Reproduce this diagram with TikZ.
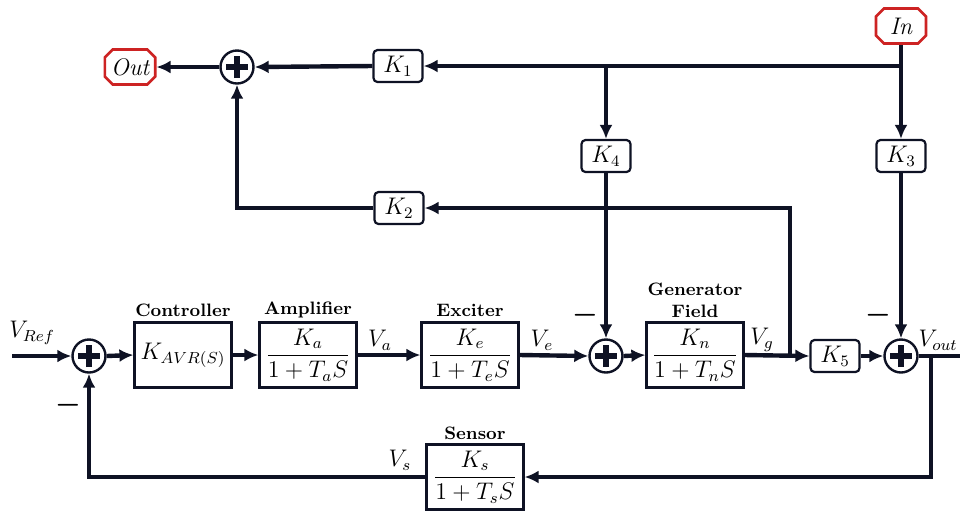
\documentclass[tikz,border=0pt]{standalone}
\usepackage{amsmath,bm}
\usetikzlibrary{shapes.misc, arrows.meta, calc}
\definecolor{ink}{RGB}{14,18,36}
\definecolor{termred}{RGB}{205,35,35}
\tikzset{
  block/.style={
    rectangle, draw=ink, line width=1.1pt,
    minimum width=48.5pt, minimum height=32.5pt,
    inner sep=1pt, font=\large
  },
  gain/.style={
    rectangle, rounded corners=2pt, draw=ink, line width=1.1pt,
    minimum width=24.5pt, minimum height=16pt,
    inner sep=1pt, font=\large
  },
  term/.style={
    chamfered rectangle, chamfered rectangle xsep=2pt, chamfered rectangle ysep=2pt,
    draw=termred, line width=1.3pt,
    minimum width=25pt, minimum height=17.5pt,
    inner sep=1pt, font=\large\itshape
  },
  sumnode/.style={
    circle, draw=ink, line width=1.2pt, minimum size=16.5pt, inner sep=0pt,
    path picture={
      \draw[ink, line width=3pt]
        (path picture bounding box.center) ++(-5.6pt,0) -- ++(11.2pt,0)
        (path picture bounding box.center) ++(0,-5.6pt) -- ++(0,11.2pt);
    }
  },
  arr/.style  = {-{Latex[length=7pt,width=6.5pt]}, draw=ink, line width=2.2pt},
  bus/.style  = {draw=ink, line width=2.2pt},
  title/.style = {font=\small\bfseries, align=center, inner sep=0pt},
  sig/.style  = {font=\large, inner sep=0pt},
  neg/.style  = {font=\Large, inner sep=0pt},
}

\begin{document}
\begin{tikzpicture}[x=0.5pt, y=-0.5pt]

\useasboundingbox (0,0) rectangle (960,511);

%% ── Upper gain network ──────────────────────────────────────────────────────
\node[term]    (Out)  at (130, 67) {Out};
\node[sumnode] (sumT) at (237, 67) {};
\node[gain]    (K1)   at (398, 66) {$K_1$};
\node[gain]    (K2)   at (399,208) {$K_2$};
\node[term]    (In)   at (901, 26) {In};
\node[gain]    (K4)   at (606,156) {$K_4$};
\node[gain]    (K3)   at (901,156) {$K_3$};

%% ── Main loop (left to right) ───────────────────────────────────────────────
\coordinate (ref) at (12,356);
\node[sumnode] (sumL) at ( 89,356) {};
\node[block]   (ctrl) at (183,355) {$K_{AVR(S)}$};
\node[block]   (amp)  at (308,355) {$\dfrac{K_a}{1+T_aS}$};
\node[block]   (exc)  at (470,355) {$\dfrac{K_e}{1+T_eS}$};
\node[sumnode] (sumM) at (606,356) {};
\node[block]   (gen)  at (695,355) {$\dfrac{K_n}{1+T_nS}$};
\node[gain]    (K5)   at (835,356) {$K_5$};
\node[sumnode] (sumR) at (901,356) {};
\coordinate (vout) at (960,356);
\node[block]   (sens) at (475,477) {$\dfrac{K_s}{1+T_sS}$};

%% ── Titles, signals and signs ───────────────────────────────────────────────
\node[title] at (183,310) {Controller};
\node[title] at (308,310) {Amplifier};
\node[title] at (470,310) {Exciter};
\node[title] at (695,300) {Generator\\Field};
\node[title] at (475,433) {Sensor};

\node[sig] at ( 32,333) {$V_{Ref}$};
\node[sig] at (380,340) {$V_a$};
\node[sig] at (542,340) {$V_e$};
\node[sig] at (762,340) {$V_g$};
\node[sig, anchor=east] at (958,340) {$V_{out}$};
\node[sig] at (400,460) {$V_s$};

\node[neg] at ( 68,405) {$\boldsymbol{-}$};
\node[neg] at (585,315) {$\boldsymbol{-}$};
\node[neg] at (878,315) {$\boldsymbol{-}$};

%% ── Junctions ───────────────────────────────────────────────────────────────
\coordinate (jIn)  at (In |- K1);
\coordinate (jK4)  at (K4 |- K1);
\coordinate (jVg)  at (790,356);
\coordinate (jOut) at (931,356);

%% ── Forward path ────────────────────────────────────────────────────────────
\draw[arr] (ref) -- (sumL.west);
\draw[arr] (sumL.east) -- (ctrl.west);
\draw[arr] (ctrl.east) -- (amp.west);
\draw[arr] (amp.east) -- (exc.west);
\draw[arr] (exc.east) -- (sumM.west);
\draw[arr] (sumM.east) -- (gen.west);
\draw[arr] (gen.east) -- (K5.west);
\draw[arr] (K5.east) -- (sumR.west);
\draw[bus] (sumR.east) -- (vout);

%% ── Sensor feedback ─────────────────────────────────────────────────────────
\draw[arr] (jOut) |- (sens.east);
\draw[arr] (sens.west) -| (sumL.south);

%% ── In → gains ──────────────────────────────────────────────────────────────
\draw[arr] (In.south) -- (K3.north);
\draw[arr] (jIn) -- (K1.east);
\draw[arr] (jK4) -- (K4.north);
\draw[arr] (K4.south) -- (sumM.north);
\draw[arr] (K3.south) -- (sumR.north);

%% ── Gains → Out ─────────────────────────────────────────────────────────────
\draw[arr] (jVg) |- (K2.east);
\draw[arr] (K2.west) -| (sumT.south);
\draw[arr] (K1.west) -- (sumT.east);
\draw[arr] (sumT.west) -- (Out.east);

\end{tikzpicture}
\end{document}
